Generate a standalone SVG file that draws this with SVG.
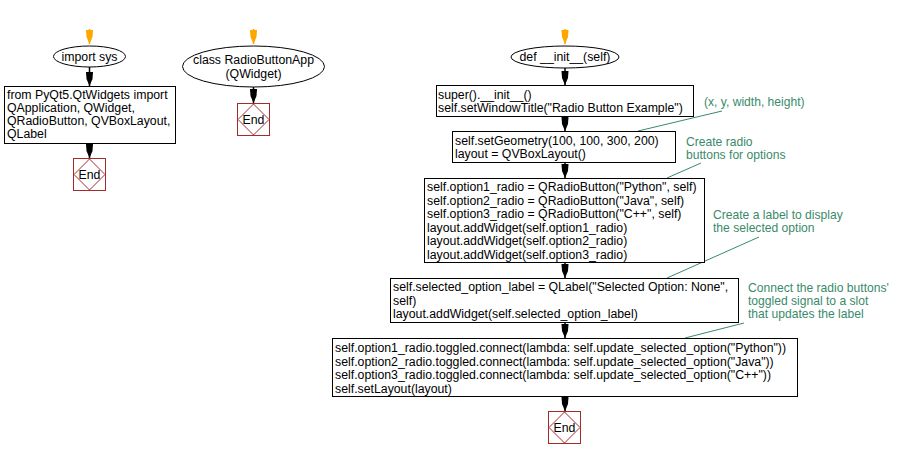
<svg xmlns="http://www.w3.org/2000/svg" width="904" height="458" viewBox="0 0 904 458">
<style>
text{font-family:"Liberation Sans",Arial,sans-serif;font-size:12.3px;fill:#000}
.box{fill:#fff;stroke:#000;stroke-width:1}
.term{fill:#fff;stroke:#000;stroke-width:1}
.endsq{fill:#fff;stroke:#a52a2a;stroke-width:1}
.enddi{fill:none;stroke:#a52a2a;stroke-width:1}
.c{fill:#3a8a6a;font-size:12.1px}
.cl{stroke:#3a8a6a;stroke-width:1;fill:none}
.ln{stroke:#000;stroke-width:1.5}
.st{stroke:#ffa500;stroke-width:1.5}
.mid{text-anchor:middle}
</style>
<defs>
<marker id="ah" viewBox="0 -4 14 8" refX="14" refY="0" markerWidth="14" markerHeight="8" markerUnits="userSpaceOnUse" orient="auto">
<path d="M0,-3.5 L7,-3 L14,0 L7,3 L0,3.5 Z" fill="#000"/>
</marker>
<marker id="oh" viewBox="0 -4 14 8" refX="14" refY="0" markerWidth="14" markerHeight="8" markerUnits="userSpaceOnUse" orient="auto">
<path d="M0,-3.5 L7,-3 L14,0 L7,3 L0,3.5 Z" fill="#ffa500"/>
</marker>
</defs>
<g id="connectors">
<line class="st" x1="89.5" y1="29" x2="89.5" y2="44" marker-end="url(#oh)"/>
<line class="ln" x1="89.5" y1="67" x2="89.5" y2="86" marker-end="url(#ah)"/>
<line class="ln" x1="89.5" y1="144" x2="89.5" y2="158" marker-end="url(#ah)"/>
<line class="st" x1="253.5" y1="29" x2="253.5" y2="44" marker-end="url(#oh)"/>
<line class="ln" x1="253.5" y1="87" x2="253.5" y2="103" marker-end="url(#ah)"/>
<line class="st" x1="565" y1="29" x2="565" y2="44" marker-end="url(#oh)"/>
<line class="ln" x1="565" y1="68" x2="565" y2="85" marker-end="url(#ah)"/>
<line class="ln" x1="565" y1="117" x2="565" y2="131" marker-end="url(#ah)"/>
<line class="ln" x1="565" y1="163" x2="565" y2="178" marker-end="url(#ah)"/>
<line class="ln" x1="565" y1="263" x2="565" y2="278" marker-end="url(#ah)"/>
<line class="ln" x1="565" y1="323" x2="565" y2="338" marker-end="url(#ah)"/>
<line class="ln" x1="565" y1="397" x2="565" y2="411" marker-end="url(#ah)"/>
<line class="cl" x1="722" y1="111" x2="638" y2="131"/>
<line class="cl" x1="701" y1="163" x2="667" y2="178"/>
<line class="cl" x1="759" y1="237" x2="667" y2="278"/>
<line class="cl" x1="744" y1="323" x2="685" y2="338"/>
</g>
<g id="n1">
<ellipse class="term" cx="89.5" cy="56.5" rx="36" ry="10.5"/>
<text class="mid" x="89.5" y="60.5">import sys</text>
</g>
<g id="n2">
<rect class="box" x="4.5" y="86.5" width="171" height="57"/>
<text x="7" y="99">from PyQt5.QtWidgets import</text>
<text x="7" y="112">QApplication, QWidget,</text>
<text x="7" y="125">QRadioButton, QVBoxLayout,</text>
<text x="7" y="138">QLabel</text>
</g>
<g id="n3">
<rect class="endsq" x="73.5" y="158.5" width="32" height="32"/>
<path class="enddi" d="M89.5,159 L105,174.5 L89.5,190 L74,174.5 Z"/>
<text class="mid" x="89.5" y="179">End</text>
</g>
<g id="n4">
<ellipse class="term" cx="253.5" cy="66.5" rx="71" ry="20.5"/>
<text class="mid" x="253.5" y="64">class RadioButtonApp</text>
<text class="mid" x="253.5" y="78">(QWidget)</text>
</g>
<g id="n5">
<rect class="endsq" x="237.5" y="103.5" width="32" height="32"/>
<path class="enddi" d="M253.5,104 L269,119.5 L253.5,135 L238,119.5 Z"/>
<text class="mid" x="253.5" y="124">End</text>
</g>
<g id="n6">
<ellipse class="term" cx="565" cy="57" rx="54" ry="11"/>
<text class="mid" x="565" y="61">def __init__(self)</text>
</g>
<g id="n7">
<rect class="box" x="436.5" y="85.5" width="257" height="31"/>
<text x="438" y="99">super().__init__()</text>
<text x="438" y="112">self.setWindowTitle("Radio Button Example")</text>
</g>
<g id="n8">
<rect class="box" x="452.5" y="131.5" width="223" height="31"/>
<text x="455" y="145">self.setGeometry(100, 100, 300, 200)</text>
<text x="455" y="158">layout = QVBoxLayout()</text>
</g>
<g id="n9">
<rect class="box" x="424.5" y="178.5" width="280" height="84"/>
<text x="427" y="191">self.option1_radio = QRadioButton("Python", self)</text>
<text x="427" y="204.5">self.option2_radio = QRadioButton("Java", self)</text>
<text x="427" y="218">self.option3_radio = QRadioButton("C++", self)</text>
<text x="427" y="231.5">layout.addWidget(self.option1_radio)</text>
<text x="427" y="245">layout.addWidget(self.option2_radio)</text>
<text x="427" y="258.5">layout.addWidget(self.option3_radio)</text>
</g>
<g id="n10">
<rect class="box" x="390.5" y="278.5" width="348" height="44"/>
<text x="393" y="291">self.selected_option_label = QLabel("Selected Option: None",</text>
<text x="393" y="304.5">self)</text>
<text x="393" y="318">layout.addWidget(self.selected_option_label)</text>
</g>
<g id="n11">
<rect class="box" x="332.5" y="338.5" width="465" height="58"/>
<text x="335" y="352">self.option1_radio.toggled.connect(lambda: self.update_selected_option("Python"))</text>
<text x="335" y="365.5">self.option2_radio.toggled.connect(lambda: self.update_selected_option("Java"))</text>
<text x="335" y="379">self.option3_radio.toggled.connect(lambda: self.update_selected_option("C++"))</text>
<text x="335" y="392.5">self.setLayout(layout)</text>
</g>
<g id="n12">
<rect class="endsq" x="548.5" y="411.5" width="32" height="32"/>
<path class="enddi" d="M564.5,412 L580,427.5 L564.5,443 L549,427.5 Z"/>
<text class="mid" x="564.5" y="432">End</text>
</g>
<g id="comments">
<text class="c" x="704" y="106">(x, y, width, height)</text>
<text class="c" x="686" y="146">Create radio</text>
<text class="c" x="686" y="158.5">buttons for options</text>
<text class="c" x="713" y="219">Create a label to display</text>
<text class="c" x="713" y="231.5">the selected option</text>
<text class="c" x="748" y="292">Connect the radio buttons'</text>
<text class="c" x="748" y="305">toggled signal to a slot</text>
<text class="c" x="748" y="318">that updates the label</text>
</g>
</svg>
